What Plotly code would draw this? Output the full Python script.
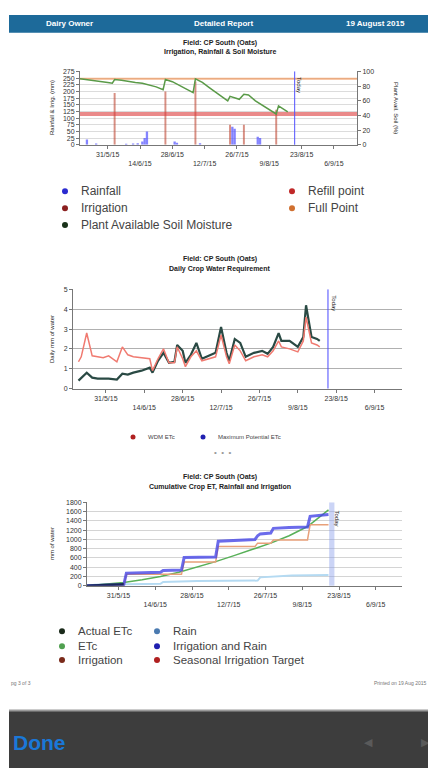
import plotly.graph_objects as go

# the page body keeps its default 8px margin, so the figure is drawn 8px in
W, H = 436, 771
OFF = 8
FW, FH = W - OFF, H - OFF


def px(x):
    return (x - OFF) / FW


def py(y):
    return 1 - (y - OFF) / FH


def iso(s):
    d, m = s.split("/")
    return f"2015-{int(m):02d}-{int(d):02d}"


X_RANGE = ["2015-05-19", "2015-09-16"]
TODAY = "2015-08-20"
FONT = "Liberation Sans, Arial, sans-serif"

tick_dates = ["31/5", "14/6", "28/6", "12/7", "26/7", "9/8", "23/8", "6/9"]
tick_labels = ["31/5/15", "14/6/15", "28/6/15", "12/7/15", "26/7/15", "9/8/15", "23/8/15", "6/9/15"]

# --- chart 1: irrigation, rainfall & soil moisture
rain_dates = ["22/5", "26/5", "8/6", "11/6", "13/6", "15/6", "16/6", "17/6", "29/6", "30/6",
              "10/7", "24/7", "25/7", "4/8", "5/8"]
rain_mm = [20, 5, 4, 5, 6, 12, 25, 50, 12, 8, 6, 68, 60, 30, 25]
irr_dates = ["3/6", "25/6", "8/7", "23/7", "29/7", "12/8"]
irr_mm = [194, 200, 237, 75, 75, 131]
pasm_dates = ["19/5", "22/5", "25/5", "28/5", "31/5", "2/6", "3/6", "6/6", "9/6", "12/6", "15/6",
              "18/6", "21/6", "24/6", "25/6", "28/6", "1/7", "4/7", "7/7", "8/7", "11/7", "14/7",
              "17/7", "20/7", "22/7", "23/7", "25/7", "27/7", "29/7", "31/7", "3/8", "6/8", "9/8",
              "11/8", "12/8", "13/8", "15/8", "17/8"]
pasm_pct = [90, 89, 88, 86, 85, 84, 89, 88, 86, 85, 84, 82, 79, 75, 89, 86, 81, 76, 71, 90, 85, 78,
            71, 64, 60, 66, 64, 62, 69, 68, 60, 54, 48, 44, 42, 53, 49, 45]
full_point = 90
refill_point = 42

# --- chart 2: daily crop water requirement
etc_dates = ["21/5", "22/5", "24/5", "26/5", "28/5", "30/5", "1/6", "4/6", "6/6", "8/6", "10/6",
             "13/6", "16/6", "17/6", "19/6", "21/6", "23/6", "25/6", "26/6", "28/6", "29/6", "1/7",
             "3/7", "5/7", "8/7", "10/7", "12/7", "14/7", "15/7", "17/7", "19/7", "21/7", "24/7",
             "27/7", "29/7", "31/7", "2/8", "3/8", "6/8", "9/8", "11/8", "12/8", "14/8", "16/8", "17/8"]
wdm_etc = [1.35, 1.6, 2.8, 1.65, 1.6, 1.55, 1.65, 1.35, 2.1, 1.7, 1.6, 1.55, 1.5, 0.9, 1.5, 2.0,
           1.3, 1.3, 2.1, 1.5, 1.1, 1.6, 1.9, 1.4, 1.5, 1.6, 2.7, 1.6, 1.25, 2.2, 1.9, 1.4, 1.6,
           1.7, 1.6, 1.9, 2.4, 2.1, 2.0, 1.85, 2.4, 3.6, 2.3, 2.2, 2.1]
max_etc = [0.4, 0.55, 0.8, 0.55, 0.5, 0.5, 0.5, 0.45, 0.75, 0.7, 0.8, 0.9, 1.05, 0.8, 1.4, 1.8,
           1.3, 1.35, 2.2, 1.9, 1.3, 1.7, 2.3, 1.5, 1.7, 1.8, 3.1, 1.8, 1.4, 2.5, 2.3, 1.6, 1.8,
           1.9, 1.75, 2.1, 2.8, 2.4, 2.4, 2.1, 2.6, 4.2, 2.6, 2.5, 2.4]

# --- chart 3: cumulative crop ET, rainfall and irrigation
ir_dates = ["19/5", "2/6", "3/6", "16/6", "17/6", "24/6", "25/6", "7/7", "8/7", "22/7", "23/7",
            "24/7", "28/7", "29/7", "4/8", "11/8", "12/8", "19/8"]
ir_cum = [0, 20, 270, 290, 330, 340, 610, 620, 960, 1000, 1080, 1120, 1140, 1240, 1260, 1270, 1500, 1540]
irrig_dates = ["19/5", "2/6", "3/6", "24/6", "25/6", "7/7", "8/7", "22/7", "23/7", "28/7", "29/7",
               "11/8", "12/8", "19/8"]
irrig_cum = [0, 0, 250, 250, 510, 510, 850, 850, 920, 920, 990, 990, 1320, 1320]
etc_cum_dates = ["19/5", "26/5", "2/6", "9/6", "16/6", "23/6", "30/6", "7/7", "14/7", "21/7",
                 "28/7", "4/8", "11/8", "19/8"]
etc_cum = [0, 30, 70, 130, 200, 290, 400, 520, 650, 780, 920, 1080, 1280, 1640]
actual_dates = ["19/5", "26/5", "2/6"]
actual_cum = [0, 15, 30]
rain_cum_dates = ["19/5", "22/5", "16/6", "17/6", "30/6", "23/7", "24/7", "5/8", "19/8"]
rain_cum = [0, 20, 40, 80, 100, 110, 180, 220, 230]

fig = go.Figure()

# chart 1
fig.add_trace(go.Bar(x=[iso(d) for d in rain_dates], y=rain_mm, xaxis="x", yaxis="y",
                     marker=dict(color="rgba(80,80,255,0.7)", line=dict(width=0)),
                     width=86400000 * 1.0, showlegend=False))
fig.add_trace(go.Bar(x=[iso(d) for d in irr_dates], y=irr_mm, xaxis="x", yaxis="y",
                     marker=dict(color="rgba(190,70,50,0.6)", line=dict(width=0)),
                     width=86400000 * 0.85, showlegend=False))
fig.add_trace(go.Scatter(x=X_RANGE, y=[full_point, full_point], xaxis="x", yaxis="y2", mode="lines",
                         line=dict(color="rgba(240,150,90,0.7)", width=2), showlegend=False))
fig.add_trace(go.Scatter(x=X_RANGE, y=[refill_point, refill_point], xaxis="x", yaxis="y2", mode="lines",
                         line=dict(color="rgba(220,60,60,0.6)", width=4), showlegend=False))
fig.add_trace(go.Scatter(x=[iso(d) for d in pasm_dates], y=pasm_pct, xaxis="x", yaxis="y2", mode="lines",
                         line=dict(color="#5a9a48", width=1.5), showlegend=False))

# chart 2
fig.add_trace(go.Scatter(x=[iso(d) for d in etc_dates], y=max_etc, xaxis="x2", yaxis="y3", mode="lines",
                         line=dict(color="#2a4a44", width=2.2), showlegend=False))
fig.add_trace(go.Scatter(x=[iso(d) for d in etc_dates], y=wdm_etc, xaxis="x2", yaxis="y3", mode="lines",
                         line=dict(color="#f07a70", width=1.5), showlegend=False))

# chart 3
fig.add_trace(go.Scatter(x=[iso(d) for d in rain_cum_dates], y=rain_cum, xaxis="x3", yaxis="y4",
                         mode="lines", line=dict(color="#b4daf2", width=2), showlegend=False))
fig.add_trace(go.Scatter(x=[iso(d) for d in etc_cum_dates], y=etc_cum, xaxis="x3", yaxis="y4",
                         mode="lines", line=dict(color="#58b058", width=1.5), showlegend=False))
fig.add_trace(go.Scatter(x=[iso(d) for d in irrig_dates], y=irrig_cum, xaxis="x3", yaxis="y4",
                         mode="lines", line=dict(color="#e8a07a", width=1.5), showlegend=False))
fig.add_trace(go.Scatter(x=[iso(d) for d in ir_dates], y=ir_cum, xaxis="x3", yaxis="y4",
                         mode="lines", line=dict(color="rgba(70,70,230,0.8)", width=3), showlegend=False))
fig.add_trace(go.Scatter(x=[iso(d) for d in actual_dates], y=actual_cum, xaxis="x3", yaxis="y4",
                         mode="lines", line=dict(color="#1a2a5a", width=2.5), showlegend=False))

staggered = [t if i % 2 == 0 else "<br>" + t for i, t in enumerate(tick_labels)]
tick_font = dict(size=7, color="#333", family=FONT)


def xaxis(left, right, anchor):
    return dict(domain=[px(left), px(right)], anchor=anchor, type="date", range=X_RANGE,
                tickvals=[iso(d) for d in tick_dates], ticktext=staggered, tickangle=0,
                tickfont=tick_font, ticks="outside", ticklen=3, tickcolor="#777",
                showline=True, linecolor="#777", showgrid=False, zeroline=False)


def yaxis(top_y, bottom_y, anchor, rng, dtick, grid):
    return dict(domain=[py(bottom_y), py(top_y)], anchor=anchor, range=rng, dtick=dtick,
                tickfont=tick_font, ticks="outside", ticklen=3, tickcolor="#777",
                showline=True, linecolor="#777", showgrid=True, gridcolor=grid, zeroline=False)


c1 = (80, 357, 68, 142)
c2 = (73, 402, 288, 388)
c3 = (87, 402, 503, 587)

shapes = [
    dict(type="rect", xref="paper", yref="paper", x0=px(9), x1=1, y0=py(29), y1=py(11),
         fillcolor="#1d6a9a", line=dict(width=0), layer="below"),
    dict(type="rect", xref="paper", yref="paper", x0=px(9), x1=1, y0=0, y1=py(713),
         fillcolor="#3d3d3d", line=dict(width=0), layer="below"),
    dict(type="line", xref="paper", yref="paper", x0=px(9), x1=1, y0=py(713), y1=py(713),
         line=dict(color="#9a9a9a", width=2)),
    dict(type="line", xref="x", yref="y domain", x0=TODAY, x1=TODAY, y0=0, y1=1,
         line=dict(color="#5050ff", width=1)),
    dict(type="line", xref="x2", yref="y3 domain", x0=TODAY, x1=TODAY, y0=0, y1=1,
         line=dict(color="#4848ff", width=1)),
    dict(type="rect", xref="x3", yref="y4 domain", x0="2015-08-19 06:00", x1="2015-08-21 06:00", y0=0, y1=1,
         fillcolor="rgba(140,160,235,0.45)", line=dict(width=0)),
]

annotations = []


def text(x, y, s, size=7, color="#222", anchor="center", bold=False, angle=0):
    annotations.append(dict(xref="paper", yref="paper", x=px(x), y=py(y), text=f"<b>{s}</b>" if bold else s,
                            showarrow=False, xanchor=anchor, yanchor="middle", textangle=angle,
                            font=dict(size=size, color=color, family=FONT)))


def legend_item(x, y, color, label, size=12, r=3):
    shapes.append(dict(type="circle", xref="paper", yref="paper", xsizemode="pixel", ysizemode="pixel",
                       xanchor=px(x), yanchor=py(y), x0=-r, x1=r, y0=-r, y1=r,
                       fillcolor=color, line=dict(width=0)))
    text(x + 2 * r + 8, y, label, size=size, color="#444", anchor="left")


# header
text(70, 20, "Dairy Owner", size=8, color="white", bold=True)
text(223, 20, "Detailed Report", size=8, color="white", bold=True)
text(375, 20, "19 August 2015", size=8, color="white", bold=True)

# chart titles
text(220, 39, "Field: CP South (Oats)", size=7, bold=True)
text(220, 48, "Irrigation, Rainfall &amp; Soil Moisture", size=7, bold=True)
text(220, 257, "Field: CP South (Oats)", size=7, bold=True)
text(220, 267, "Daily Crop Water Requirement", size=7, bold=True)
text(220, 477, "Field: CP South (Oats)", size=7, bold=True)
text(220, 487, "Cumulative Crop ET, Rainfall and Irrigation", size=7, bold=True)

# axis titles
text(52, 105, "Rainfall &amp; Irrig. (mm)", size=6, angle=-90)
text(396, 105, "Plant Avail. Soil (%)", size=6, angle=90)
text(52, 338, "Daily mm of water", size=6, angle=-90)
text(52, 545, "mm of water", size=6, angle=-90)

# today labels
annotations.append(dict(xref="x", yref="y2", x=TODAY, y=82, text="Today", showarrow=False, textangle=90,
                        xshift=5, font=dict(size=6, color="#222", family=FONT)))
annotations.append(dict(xref="x2", yref="y3", x=TODAY, y=4.3, text="Today", showarrow=False, textangle=90,
                        xshift=6, font=dict(size=6, color="#222", family=FONT)))
annotations.append(dict(xref="x3", yref="y4", x=TODAY, y=1450, text="Today", showarrow=False, textangle=90,
                        xshift=6, font=dict(size=6, color="#222", family=FONT)))

# legends
legend_item(65, 189, "#2b2bd0", "Rainfall", size=12)
legend_item(65, 206, "#8b2020", "Irrigation", size=12)
legend_item(65, 223, "#1a331a", "Plant Available Soil Moisture", size=12)
legend_item(292, 189, "#c02828", "Refill point", size=12)
legend_item(292, 206, "#d07030", "Full Point", size=12)

legend_item(133, 437, "#b02020", "WDM ETc", size=6, r=2.5)
legend_item(203, 437, "#2020b0", "Maximum Potential ETc", size=6, r=2.5)
text(222, 453, "•  •  •", size=8, color="#999")

legend_item(62, 633, "#1a2a1a", "Actual ETc", size=11.5)
legend_item(62, 648, "#50a050", "ETc", size=11.5)
legend_item(62, 662, "#7a2a1a", "Irrigation", size=11.5)
legend_item(157, 633, "#4a7ab0", "Rain", size=11.5)
legend_item(157, 648, "#2020b0", "Irrigation and Rain", size=11.5)
legend_item(157, 662, "#b02020", "Seasonal Irrigation Target", size=11.5)

# footer and toolbar
text(9, 685, "pg 3 of 3", size=5, color="#777", anchor="left")
text(372, 685, "Printed on 19 Aug 2015", size=5, color="#777", anchor="left")
text(11, 745, "Done", size=21, color="#1a78d8", anchor="left", bold=True)
text(368, 745, "◀", size=11, color="#5a5a5a")
text(425, 745, "▶", size=11, color="#5a5a5a")

fig.update_layout(
    width=FW, height=FH, autosize=False,
    margin=dict(l=0, r=0, t=0, b=0),
    paper_bgcolor="white", plot_bgcolor="white",
    font=dict(family=FONT, color="#222"),
    barmode="overlay", showlegend=False,
    xaxis=xaxis(c1[0], c1[1], "y"),
    yaxis=yaxis(c1[2], c1[3], "x", [0, 275], 25, "#dcdcdc"),
    yaxis2=dict(overlaying="y", side="right", anchor="x", range=[0, 100], dtick=20,
                tickfont=tick_font, ticks="outside", ticklen=3, tickcolor="#777",
                showline=True, linecolor="#777", showgrid=False, zeroline=False),
    xaxis2=xaxis(c2[0], c2[1], "y3"),
    yaxis3=yaxis(c2[2], c2[3], "x2", [0, 5], 1, "#b0b0b0"),
    xaxis3=xaxis(c3[0], c3[1], "y4"),
    yaxis4=yaxis(c3[2], c3[3], "x3", [0, 1800], 200, "#d4d4d4"),
    shapes=shapes,
    annotations=annotations,
)

fig.write_html("out.html")
